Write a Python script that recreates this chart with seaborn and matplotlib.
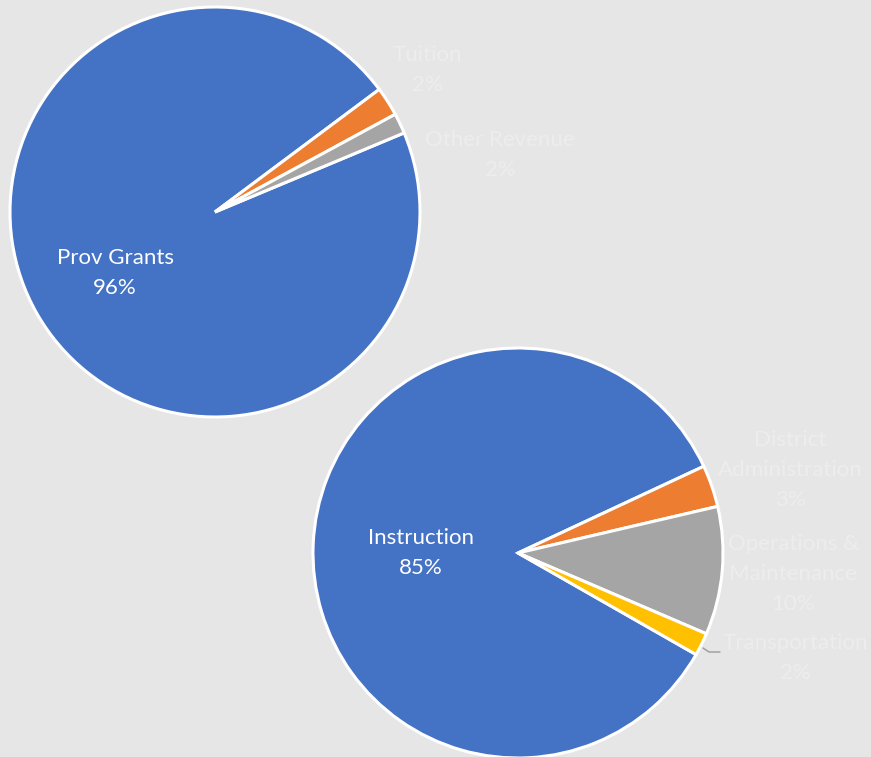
import matplotlib
matplotlib.use("Agg")
import matplotlib.pyplot as plt
import seaborn as sns

# revenue pie (top left)
rev_labels = ["Prov Grants", "Tuition", "Other Revenue"]
rev_values = [96.1, 2.3, 1.6]
rev_colors = ["#4472C4", "#ED7D31", "#A5A5A5"]

# expense pie (bottom right)
exp_labels = ["Instruction", "District\nAdministration", "Operations &\nMaintenance", "Transportation"]
exp_values = [84.8, 3.3, 10.1, 1.8]
exp_colors = ["#4472C4", "#ED7D31", "#A5A5A5", "#FFC000"]

BG = "#E6E6E6"
FAINT = "#EDEDED"

sns.set_style("white", {"axes.facecolor": BG, "figure.facecolor": BG})
plt.rcParams["font.family"] = ["Lato", "DejaVu Sans"]

W, H = 871, 757
fig = plt.figure(figsize=(W / 100, H / 100), dpi=100)
ax = fig.add_axes([0, 0, 1, 1])

wedge = {"edgecolor": "white", "linewidth": 2.2}

# top pie, centre (215, 212), r 205
ax.pie(rev_values, colors=sns.color_palette(rev_colors), startangle=-22.7, counterclock=True,
       center=(215, 212), radius=205, wedgeprops=wedge, frame=True)

# bottom pie, centre (518, 553)
ax.pie(exp_values, colors=sns.color_palette(exp_colors), startangle=29.7, counterclock=True,
       center=(518, 553), radius=205, wedgeprops=wedge, frame=True)

ax.set_xlim(0, W)
ax.set_ylim(H, 0)
ax.set_aspect("equal")
ax.axis("off")

def pct(v):
    return f"{round(v):d}%"

# label spots (pixel coords)
rev_pos = [(115, 273, "white"), (427, 70, FAINT), (500, 155, FAINT)]
exp_pos = [(421, 553, "white"), (790, 470, FAINT), (793, 574, FAINT), (795, 658, FAINT)]

for (x, y, c), lab, v in zip(rev_pos + exp_pos, rev_labels + exp_labels, rev_values + exp_values):
    ax.text(x, y, f"{lab}\n{pct(v)}", ha="center", va="center", color=c,
            fontsize=16, linespacing=1.6)

# leader line for Transportation
ax.plot([703, 709, 720], [648, 652, 652], color="#9A9A9A", linewidth=1)

fig.savefig("out.png", dpi=100, facecolor=BG)
